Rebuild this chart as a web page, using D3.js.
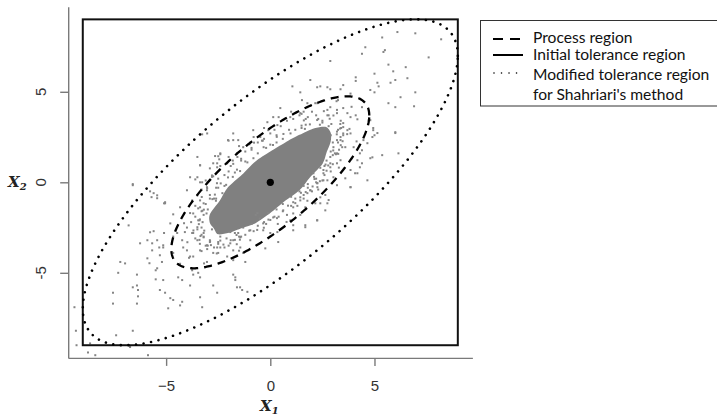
<!DOCTYPE html>
<html>
<head>
<meta charset="utf-8">
<title>Process and tolerance regions</title>
<script src="https://d3js.org/d3.v7.min.js"></script>
<style>
  body { margin: 0; background: #fff; }
  svg { display: block; }
</style>
</head>
<body>
<div id="chart"></div>
<script>
// axis ticks
const xTicks = [-5, 0, 5]
const yTicks = [-5, 0, 5]

// initial tolerance region (rectangle), in data units
const tolX = [-9, 9]
const tolY = [-9, 9]

// ellipses: common correlation, radius of each region
const rho = 0.776
const processK = 4.75
const modifiedK = 9.0
const centre = [0, 0]

// solid dense core of the cloud (outline)
const core = [
  [2.9, 2.25], [2.9, 2.74], [2.68, 3.06], [2.12, 2.99], [1.4, 2.62], [0.7, 2.19],
  [0.0, 1.7], [-0.73, 1.14], [-1.35, 0.43], [-2.05, -0.3], [-2.42, -1.0], [-2.9, -1.76],
  [-2.9, -2.25], [-2.7, -2.56], [-2.51, -2.87], [-1.98, -2.79], [-1.35, -2.52], [-0.73, -2.27],
  [0.0, -1.7], [0.67, -1.06], [1.4, -0.44], [1.91, 0.28], [2.51, 1.03], [2.7, 1.64]
]

// individual points around the core
const points = [
  // ragged edge of the core
  [-3.3,-1.6],[-3.1,-1.2],[-2.9,-0.7],[-2.6,-0.3],[-2.5,0.2],[-2.2,0.4],[-1.9,0.9],[-1.8,1.2],
  [-1.4,1.3],[-1.2,1.7],[-0.9,1.9],[-0.6,2.2],[-0.3,2.4],[0.0,2.7],[0.2,2.9],[0.5,3.1],
  [0.8,3.4],[1.1,3.5],[1.4,3.7],[1.8,3.6],[2.2,3.7],[2.5,3.4],[2.8,3.1],[2.9,2.6],[3.0,2.2],
  [2.9,1.7],[2.7,1.2],[2.4,0.8],[2.1,0.3],[1.8,-0.1],[1.4,-0.5],[1.0,-0.8],[0.6,-1.2],
  [0.3,-1.5],[-0.1,-1.7],[-0.5,-2.0],[-0.9,-2.3],[-1.3,-2.5],[-1.7,-2.8],[-2.1,-3.1],
  [-2.5,-3.4],[-2.9,-3.3],[-3.2,-3.0],[-3.3,-2.5],[-3.4,-2.1],[-3.6,-1.9],[-2.7,-0.9],
  [-2.3,-0.6],[0.3,2.6],[1.6,3.9],[2.6,3.0],[-0.7,-1.8],[1.6,-0.2],[-3.0,-3.5],[-2.7,-3.6],
  [2.0,3.9],[-1.0,2.1],[-1.6,1.6],[2.2,0.0],[1.2,-0.9],
  [-3.6,-1.3],[-3.3,-0.4],[-2.8,0.3],[-2.4,0.9],[-2.0,1.4],[-1.5,2.0],[-0.8,2.5],[-0.3,3.0],
  [0.4,3.6],[1.0,3.9],[2.8,3.7],[3.2,2.8],[3.3,1.8],[3.0,1.0],[2.6,0.4],[2.3,-0.4],[1.6,-0.9],
  [1.0,-1.3],[0.4,-1.9],[-0.2,-2.3],[-0.8,-2.7],[-1.4,-3.0],[-2.0,-3.5],[-2.5,-3.9],
  [-3.3,-3.8],[-3.7,-2.8],[-3.8,-2.2],
  [3.25,2.9],[3.4,3.0],[2.5,3.3],[2.3,3.5],[1.9,3.2],[1.5,3.0],[1.2,2.9],[0.6,2.4],[0.3,2.2],
  [-0.2,1.9],[-0.6,1.6],[-1.1,1.1],[-1.8,0.3],[-1.6,0.7],[-2.2,-0.2],[-2.6,-0.9],[-3.0,-1.5],
  [-3.25,-2.2],[-3.3,-2.9],[-2.9,-3.2],[-2.5,-3.3],[-1.9,-3.2],[-1.5,-3.0],[-1.2,-2.9],
  [-0.6,-2.4],[-0.3,-2.2],[0.2,-1.9],[0.6,-1.6],[1.1,-1.1],[1.8,-0.3],[1.6,-0.7],[2.2,0.2],
  [2.6,0.9],[3.0,1.5],[3.25,2.2],[3.5,2.6],[2.9,0.6],[2.5,0.1],[2.0,-0.5],[1.3,-1.3],
  [0.8,-1.8],[-0.9,1.8],[-1.4,1.2],[-2.0,0.6],[-2.5,-0.3],[-2.9,-0.9],[-0.4,2.3],[0.9,2.9],
  [1.7,3.5],[-3.5,-2.6],[-3.1,-3.5],[-2.2,-3.6],[-3.6,-3.1],
  [3.19,2.65],[2.93,3.22],[2.38,3.18],[1.66,2.95],[0.97,2.7],[0.13,2.06],[-0.81,1.33],
  [-1.45,0.62],[-2.12,-0.14],[-2.61,-1.02],[-3.06,-1.72],
  [-3.17,-2.67],[-2.89,-3.26],[-2.4,-3.22],[-1.62,-2.91],[-1.01,-2.67],[-0.09,-2.06],
  [0.85,-1.29],[1.47,-0.58],[2.12,0.18],[2.65,0.98],[3.02,1.76],
  [3.36,3.22],[2.85,3.51],[1.5,3.13],[0.63,2.67],[-0.32,1.94],[-2.03,0.27],[-2.66,-0.68],
  [-3.19,-1.51],[-3.43,-2.31],[-3.4,-3.18],[-2.85,-3.47],[-1.46,-3.17],[-0.63,-2.63],
  [0.32,-1.98],[2.03,-0.23],[2.7,0.64],[3.15,1.55],[3.47,2.27],
  // inside the process region
  [3.8,2.95],[4.18,3.48],[3.38,3.4],[3.9,4.17],[3.03,3.69],[2.57,3.93],[2.25,3.44],[1.61,3.42],
  [1.5,3.78],[0.31,2.51],[-0.36,2.3],[-1.2,1.15],[-1.78,1.02],[-2.38,-0.06],[-3.29,-0.81],
  [-3.26,-1.57],[-4.14,-2.26],[-3.69,-2.66],[-3.98,-3.31],[-3.38,-3.4],[-3.9,-4.17],
  [-3.03,-3.69],[-2.57,-3.93],[-2.25,-3.44],[-1.61,-3.42],[-1.5,-3.78],[-0.31,-2.51],
  [0.36,-2.3],[1.2,-1.15],[1.78,-1.02],[2.38,0.06],[3.29,0.81],[3.26,1.57],[4.14,2.26],
  [3.69,2.66],[3.35,2.97],[3.18,4.48],[1.7,3.18],[0.0,2.08],[-0.78,2.19],[-1.7,0.54],
  [-2.78,-0.93],[-3.38,-2.05],[-3.35,-2.97],[-3.18,-4.48],[-1.7,-3.18],[0.0,-2.08],
  [0.78,-2.19],[1.7,-0.54],[2.78,0.93],[3.38,2.05],
  [-3.1,0.1],[-2.55,0.83],[-2.07,1.05],[-1.58,1.4],[-1.3,1.94],[-0.96,2.2],[-0.48,2.5],
  [-0.1,2.88],[0.34,3.16],[0.62,3.44],[0.96,3.6],[1.44,3.82],[1.78,4.15],[2.26,4.37],
  [2.74,4.0],[3.2,3.82],[3.5,3.27],[3.85,2.7],[4.0,1.94],[3.37,2.5],[3.03,1.94],[2.88,1.4],
  [3.2,1.05],[2.55,0.68],[2.74,0.11],[2.26,-0.05],[1.92,-0.44],[1.44,-0.83],[1.1,-1.38],
  [0.62,-1.55],[0.14,-1.94],[-0.34,-2.27],[-0.96,-2.65],[-1.44,-3.04],[-1.92,-3.37],
  [-2.55,-3.6],[-3.2,-3.04],[-3.5,-2.48],[-3.7,-1.72],[-3.37,-1.0],[-3.04,-0.44],[-4.0,-0.44],
  [-4.33,-1.38],[-3.85,0.28],[-2.4,1.6],[-1.78,2.33],[-0.82,2.88],[-5.14,-3.6],[-4.66,-3.9],
  [-4.18,-3.6],[-3.85,-4.1],[-4.33,-4.5],
  [-3.27,2.65],[-3.03,2.7],[-2.03,2.33],[-3.5,1.4],[-2.65,1.45],[-2.45,1.27],[-2.55,1.05],
  [-3.37,0.94],[-2.9,0.77],[-2.8,0.38],[-3.6,0.16],[-3.27,0.0],[-3.5,-0.72],[-3.03,-0.33],
  [-3.75,-1.0],[-3.2,-1.16],[-3.46,-1.44],
  [-2.5,1.44],[-2.4,1.55],[-2.74,1.05],[-3.37,0.94],[-3.5,0.28],[-3.37,0.0],[-2.74,0.33],
  [-2.56,-0.05],[-2.0,2.3],[-3.04,-0.27],[-1.78,2.7],[-1.54,2.33],
  [-4.0,-2.5],[-3.75,-2.8],[-3.5,-3.2],[-3.37,-3.76],[-3.04,-3.48],[-2.74,-3.9],[-2.4,-3.6],
  [-2.07,-4.1],[-1.78,-3.76],[-4.0,-3.76],[-3.7,-4.1],[-3.04,-4.4],[-3.2,-2.8],[-2.8,-2.6],
  [-2.4,-3.0],[-1.78,-3.2],[-1.92,-2.75],[-1.54,-2.8],[-3.46,-2.1],[-3.2,-1.8],[-3.85,-1.7],
  [-3.37,-1.38],[-4.23,-3.2],[-4.1,-2.75],[-5.67,-3.37],[-5.43,-3.2],[-5.33,-3.6],
  [-5.9,-3.2],[-5.14,-3.48],[-4.66,-3.0],[-4.47,-2.8],
  [3.2,2.33],[3.45,1.94],[3.1,1.6],[2.88,1.05],[2.55,0.5],[2.25,-0.05],[1.92,-0.44],
  [1.44,-1.0],[1.68,-1.38],[1.1,-1.72],[3.7,2.88],[3.5,3.05],[4.94,2.88],
  [3.5,2.7],[3.37,2.33],[3.6,1.94],[3.2,1.6],[3.37,1.22],[2.88,0.83],[3.03,0.28],[2.55,0.11],
  [2.07,0.5],[2.26,-0.27],[1.78,-0.6],[2.4,-0.83],[0.48,4.1],[0.14,3.6],[-0.14,3.32],
  [2.74,3.7],[1.52,4.54],[1.78,4.37],[2.16,4.37],[2.88,4.15],[3.25,4.54],[3.2,4.0],[3.5,4.1],
  [3.7,3.82],[3.85,3.6],[4.1,3.7],[4.4,4.15],
  [-0.24,-3.65],[0.38,-3.3],[1.1,-2.37],[1.68,-2.37],[2.25,-2.1],[2.74,-1.16],[2.16,-1.16],
  [0.96,-2.1],[0.34,-2.75],[0.0,-2.8],[-0.96,-3.2],[-1.3,-3.9],[-1.44,-3.6],[-0.62,-1.7],
  [-0.34,-2.65],[1.44,-1.8],
  [2.64,-0.7],[2.8,-0.98],[2.4,-1.16],[2.64,-1.55],[2.25,-2.1],[1.68,-2.48],[1.1,-2.65],
  [3.2,-0.16],[3.6,0.22],[3.85,-0.27],
  // between the process region and the modified region
  [5.37,8.0],[6.1,8.3],[6.96,8.23],[8.2,7.9],[4.56,7.46],[5.5,7.3],[5.43,7.2],[4.4,7.1],
  [7.6,6.9],[2.88,6.7],[1.92,5.65],[1.06,5.3],[5.67,6.5],[5.9,6.13],[6.5,6.36],[5.0,6.0],
  [4.1,5.8],[4.1,5.6],[5.14,5.5],[5.77,5.5],[6.0,5.65],[6.58,5.75],[1.44,4.97],[2.25,5.25],
  [2.4,5.3],[2.74,5.25],[2.88,5.14],[3.37,5.14],[3.5,5.37],[3.85,4.9],[4.8,5.1],[5.0,4.97],
  [5.2,5.3],[5.67,4.37],[6.0,4.15],[6.25,4.7],[6.9,4.2],[6.96,4.97],
  [4.8,3.43],[4.94,3.0],[4.9,2.5],[4.47,2.33],[4.3,1.6],[4.8,1.33],[4.3,0.83],[4.66,0.11],
  [5.0,2.6],[6.0,2.77],[4.07,0.5],[3.85,-0.27],[5.37,1.5],
  [6.0,2.72],[6.15,1.6],[4.9,1.38],[5.14,2.72],[4.66,2.16],[4.4,1.77],[4.18,1.22],[4.4,1.05],
  [3.85,0.68],[4.18,0.5],
  [-6.6,-0.1],[-5.77,-0.5],[-5.6,-0.6],[-6.6,-0.16],[-5.7,-0.82],[-5.43,-0.88],[-5.05,-1.16],
  [-5.43,-0.72],[-5.05,-1.1],
  [-5.1,-1.16],[-4.66,-1.77],[-6.8,-2.38],[-5.77,-2.76],[-5.6,-2.7],[-5.1,-2.8],[-4.8,-2.27],
  [-6.25,-3.37],[-5.9,-4.2],[-5.67,-3.76],[-5.3,-4.03],[-5.2,-4.4],[-5.43,-4.75],[-7.2,-4.4],
  [-6.97,-4.48],[-7.3,-5.0],[-6.4,-5.1],[-6.4,-5.7],[-6.6,-5.8],[-6.35,-5.95],[-6.35,-6.3],
  [-7.55,-6.1],[-7.55,-6.7],[-6.4,-6.7],[-5.3,-5.95],[-5.05,-6.1],[-4.8,-6.4],[-4.66,-6.5],
  [-4.33,-6.8],[-4.23,-6.6],[-4.9,-6.96],[-5.5,-4.86],[-5.5,-5.36],[-5.14,-5.4],[-4.42,-5.25],
  [-4.23,-5.4],[-3.85,-5.7],[-3.37,-6.35],[-3.27,-6.9],[-3.75,-4.86],[-3.7,-5.1],[-3.46,-5.0],
  [-3.37,-5.25],[-2.74,-5.7],[-2.55,-6.1],[-1.78,-5.1],[-1.68,-5.4],[-1.6,-5.8],[-5.8,-4.47],
  [-1.68,-5.25],[-1.45,-5.8],[-1.35,-5.95],[-1.1,-6.05],[-1.2,-4.4],[-1.78,-4.3],
  // outside the modified region
  [-6.6,-8.2],[-7.4,-8.45],[-6.73,-9.1],[-5.87,-9.55],[-8.75,-9.4],[-8.4,-9.55],[-9.4,-6.9],
  [-9.33,-8.2],[-9.3,-9.0],[-8.65,-8.9]
]

const legendLabels = ["Process region", "Initial tolerance region", "Modified tolerance region", "for Shahriari's method"]

const W = 717, H = 416

const svg = d3.select("#chart").append("svg")
    .attr("width", W)
    .attr("height", H)

const x = d3.scaleLinear().domain([-9.7, 9.7]).range([68.2, 472.4])
const y = d3.scaleLinear().domain([-9.7, 9.7]).range([357.9, 6.7])

// axes (R style, open box on the left and bottom)
const xAxis = svg.append("g")
    .attr("transform", "translate(0," + y(-9.7) + ")")
    .call(d3.axisBottom(x).tickValues(xTicks).tickSize(8).tickSizeOuter(0).tickPadding(14))
const yAxis = svg.append("g")
    .attr("transform", "translate(" + x(-9.7) + ",0)")
    .call(d3.axisLeft(y).tickValues(yTicks).tickSize(8).tickSizeOuter(0).tickFormat(""))

svg.selectAll(".domain, .tick line").attr("stroke", "#7a7a7a").attr("stroke-width", 1.4)
xAxis.selectAll("text")
    .attr("font-family", "Liberation Sans, Arial, sans-serif")
    .attr("font-size", "15px")
    .attr("fill", "#333")

svg.selectAll(".ylab")
    .data(yTicks)
    .enter()
    .append("text")
    .attr("class", "ylab")
    .attr("transform", d => "translate(46," + y(d) + ") rotate(-90)")
    .attr("text-anchor", "middle")
    .attr("font-family", "Liberation Sans, Arial, sans-serif")
    .attr("font-size", "15px")
    .attr("fill", "#333")
    .text(d => d)

// axis titles
const xt = svg.append("text")
    .attr("x", 260).attr("y", 411)
    .attr("font-family", "DejaVu Serif, serif")
    .attr("font-weight", "bold").attr("font-style", "italic")
    .attr("font-size", "15px").attr("fill", "#222")
xt.append("tspan").text("X")
xt.append("tspan").attr("font-size", "10px").attr("dy", 3).text("1")

const yt = svg.append("text")
    .attr("x", 8).attr("y", 187)
    .attr("font-family", "DejaVu Serif, serif")
    .attr("font-weight", "bold").attr("font-style", "italic")
    .attr("font-size", "15px").attr("fill", "#222")
yt.append("tspan").text("X")
yt.append("tspan").attr("font-size", "10px").attr("dy", 3).text("2")

// point cloud
svg.append("path")
    .datum(core)
    .attr("d", d3.line().x(d => x(d[0])).y(d => y(d[1])).curve(d3.curveCardinalClosed.tension(0.2)))
    .attr("fill", "#808080")

svg.append("g").selectAll("rect")
    .data(points)
    .enter()
    .append("rect")
    .attr("x", d => x(d[0]) - 1)
    .attr("y", d => y(d[1]) - 1)
    .attr("width", 2)
    .attr("height", 2)
    .attr("fill", "#858585")

// ellipse outline from centre, radius k and correlation rho
function ellipse(k) {
    const ts = d3.range(0, 2 * Math.PI, Math.PI / 180)
    const s = Math.sqrt(1 - rho * rho)
    return ts.map(t => [centre[0] + k * Math.cos(t), centre[1] + k * (rho * Math.cos(t) + s * Math.sin(t))])
}
const line = d3.line().x(d => x(d[0])).y(d => y(d[1])).curve(d3.curveLinearClosed)

svg.append("rect")
    .attr("x", x(tolX[0]))
    .attr("y", y(tolY[1]))
    .attr("width", x(tolX[1]) - x(tolX[0]))
    .attr("height", y(tolY[0]) - y(tolY[1]))
    .attr("fill", "none")
    .attr("stroke", "#111")
    .attr("stroke-width", 2)

svg.append("path")
    .attr("d", line(ellipse(processK)))
    .attr("fill", "none")
    .attr("stroke", "#000")
    .attr("stroke-width", 2.3)
    .attr("stroke-dasharray", "8,6")

svg.append("path")
    .attr("d", line(ellipse(modifiedK)))
    .attr("fill", "none")
    .attr("stroke", "#000")
    .attr("stroke-width", 2.6)
    .attr("stroke-linecap", "round")
    .attr("stroke-dasharray", "0.01,7.6")

svg.append("circle")
    .attr("cx", x(centre[0]))
    .attr("cy", y(centre[1]))
    .attr("r", 3.6)
    .attr("fill", "#000")

// legend
const lg = svg.append("g")
lg.append("rect")
    .attr("x", 480.5).attr("y", 20.5)
    .attr("width", 245).attr("height", 85.5)
    .attr("fill", "#fff").attr("stroke", "#333").attr("stroke-width", 1)

const legendY = [43, 59.5, 80, 100]
lg.selectAll("text.lt")
    .data(legendLabels)
    .enter()
    .append("text")
    .attr("class", "lt")
    .attr("x", 533)
    .attr("y", (d, i) => legendY[i])
    .attr("font-family", "Lato, sans-serif")
    .attr("font-size", "15.6px")
    .attr("fill", "#111")
    .text(d => d)

lg.append("line").attr("x1", 493).attr("x2", 521).attr("y1", 39).attr("y2", 39)
    .attr("stroke", "#000").attr("stroke-width", 2).attr("stroke-dasharray", "10,7")
lg.append("line").attr("x1", 493).attr("x2", 523).attr("y1", 55).attr("y2", 55)
    .attr("stroke", "#000").attr("stroke-width", 2)
lg.append("line").attr("x1", 494).attr("x2", 520).attr("y1", 73).attr("y2", 73)
    .attr("stroke", "#000").attr("stroke-width", 1.6).attr("stroke-linecap", "round")
    .attr("stroke-dasharray", "0.01,7.5")
</script>
</body>
</html>
